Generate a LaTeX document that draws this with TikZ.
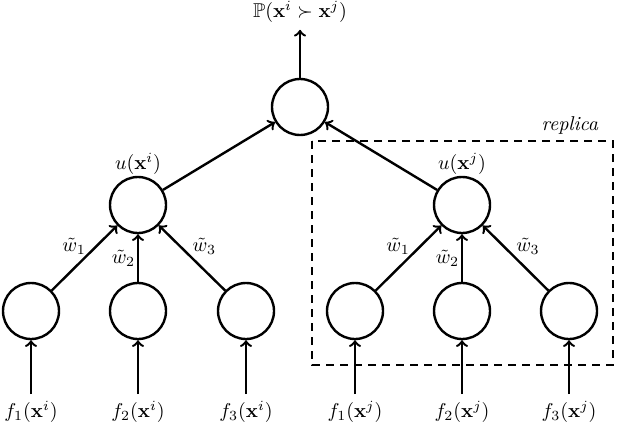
\documentclass[tikz,border=0pt]{standalone}
\usepackage{amsmath,amssymb}
\usepackage{tikz}
\usetikzlibrary{arrows}
\usetikzlibrary{shapes,positioning,fit,backgrounds}

\tikzset{
  unit/.style={circle,draw,line width=1.2pt,minimum size=28pt,inner sep=0pt},
  link/.style={->,line width=1.2pt},
  replicabox/.style={draw,line width=1.2pt,dash pattern=on 4pt off 3pt}
}

\begin{document}
\begin{tikzpicture}[x=0.5pt,y=-0.5pt]
    \useasboundingbox (0,0) rectangle (640,444);
    % output unit
    \node[unit] (top) at (300,107) {};
    \node (prob) at (300,12) {$\mathbb{P}(\mathbf{x}^i \succ \mathbf{x}^j)$};
    \draw[link] (top) -- (prob);
    % utilities
    \node[unit,label={[yshift=-3pt]above:$u(\mathbf{x}^i)$}] (ui) at (138,205) {};
    \node[unit,label={[yshift=-3pt]above:$u(\mathbf{x}^j)$}] (uj) at (462,205) {};
    \draw[link] (ui) -- (top);
    \draw[link] (uj) -- (top);
    % feature units
    \foreach \k/\xi/\xj in {1/31/355,2/138/462,3/246/569}{
      \node[unit] (ai\k) at (\xi,311) {};
      \node[unit] (aj\k) at (\xj,311) {};
      \node (fi\k) at (\xi,412) {$f_\k(\mathbf{x}^i)$};
      \node (fj\k) at (\xj,412) {$f_\k(\mathbf{x}^j)$};
      \draw[link] (fi\k) -- (ai\k);
      \draw[link] (fj\k) -- (aj\k);
    }
    % weights
    \foreach \s in {i,j}{
      \draw[link] (a\s1) -- node[pos=0.55,above left=-2pt,xshift=1.5pt,yshift=-2.5pt] {$\tilde{w}_1$} (u\s);
      \draw[link] (a\s2) -- node[pos=0.5,left=-2pt,xshift=0.5pt] {$\tilde{w}_2$} (u\s);
      \draw[link] (a\s3) -- node[pos=0.55,above right=-2pt,xshift=-0.5pt,yshift=-2.5pt] {$\tilde{w}_3$} (u\s);
    }
    % replica
    \draw[replicabox] (312,141) rectangle (613,365);
    \node (rep) at (570,125) {\textit{replica}};
\end{tikzpicture}
\end{document}
